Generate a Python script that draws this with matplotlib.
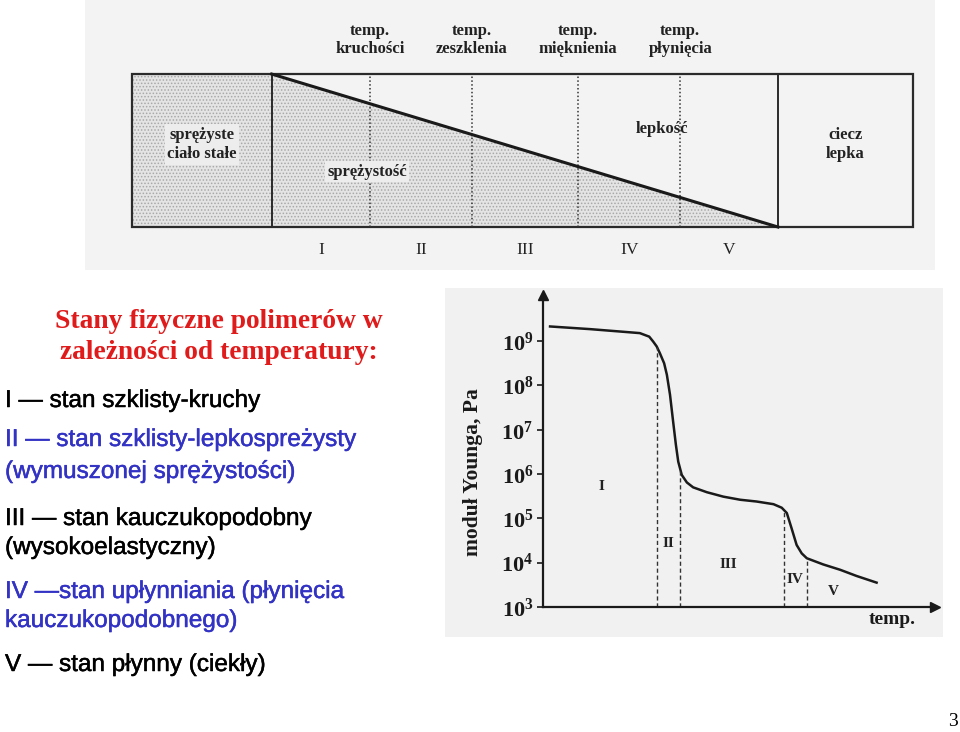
import numpy as np
import matplotlib.pyplot as plt
import matplotlib.patheffects as pe
from matplotlib.patches import Rectangle
from matplotlib.ticker import NullLocator

plt.rcParams['mathtext.fontset'] = 'custom'
plt.rcParams['mathtext.rm'] = 'Liberation Serif'
plt.rcParams['mathtext.bf'] = 'Liberation Serif:bold'
plt.rcParams['hatch.linewidth'] = 0.7

W, H = 960, 732
SERIF = 'Liberation Serif'
SANS = 'Liberation Sans'

# --- top schematic (temperature scale of the box: 0..100) ---
solid_edge = 17.9     # sprężyste ciało stałe | polimer
liquid_edge = 82.7    # polimer | ciecz lepka
transition_t = [30.5, 43.5, 57.1, 70.2]
transition_names = ['temp.\nkruchości', 'temp.\nzeszklenia',
                    'temp.\nmięknienia', 'temp.\npłynięcia']
elastic_t = [17.9, 82.7]
elastic_share = [1.0, 0.0]
state_names = ['I', 'II', 'III', 'IV', 'V']

# --- bottom chart: Young modulus vs temperature (log10 Pa) ---
temp = [1.8, 12.0, 20.5, 24.7, 27.1, 28.1, 29.0, 29.8, 30.9, 31.6, 32.4,
        33.2, 33.9, 34.5, 35.4, 36.7, 38.3, 41.8, 46.0, 50.3, 54.5, 58.8,
        60.9, 62.2, 63.4, 64.7, 66.0, 67.3, 71.5, 75.8, 80.0, 85.1]
log_E = [9.33, 9.27, 9.21, 9.18, 9.10, 8.99, 8.88, 8.73, 8.50, 8.24, 7.79,
         7.18, 6.66, 6.28, 5.98, 5.81, 5.70, 5.59, 5.49, 5.42, 5.38, 5.32,
         5.24, 5.12, 4.78, 4.40, 4.21, 4.10, 3.96, 3.84, 3.70, 3.55]
state_bounds = [29.1, 35.0, 61.5, 67.3]
label_t = [14.8, 32.1, 47.2, 64.3, 74.0]
label_logE = [5.71, 4.44, 3.97, 3.61, 3.34]
decades = [3, 4, 5, 6, 7, 8, 9]

# --- slide text ---
title_lines = ['Stany fizyczne polimerów w', 'zależności od temperatury:']
list_lines = [
    ('I — stan szklisty-kruchy', 'k', 401),
    ('II — stan szklisty-lepkospreżysty', 'b', 440),
    ('(wymuszonej sprężystości)', 'b', 472),
    ('III — stan kauczukopodobny', 'k', 519),
    ('(wysokoelastyczny)', 'k', 548),
    ('IV —stan upłynniania (płynięcia', 'b', 592),
    ('kauczukopodobnego)', 'b', 621),
    ('V — stan płynny (ciekły)', 'k', 665),
]
COLORS = {'k': '#000000', 'b': '#3232c4'}
SCAN_BG = '#f3f3f3'
INK = '#222222'


def rect(x0, y0, x1, y1):
    return [x0 / W, 1 - y1 / H, (x1 - x0) / W, (y1 - y0) / H]


fig = plt.figure(figsize=(W / 100, H / 100), dpi=100)

# ---------------- top schematic ----------------
ax1 = fig.add_axes(rect(85, 0, 935, 270))
ax1.set_facecolor(SCAN_BG)
for s in ax1.spines.values():
    s.set_visible(False)
ax1.set_xticks([])
ax1.set_yticks([])
ax1.set_xlim(-6.0, 102.8)
ax1.set_ylim(-0.281, 1.484)

ax1.fill_between([0, solid_edge], 0, 1, facecolor='#e4e4e4',
                 edgecolor='#a8a8a8', hatch='.....', lw=0)
ax1.fill_between(elastic_t, 0, elastic_share, facecolor='#e4e4e4',
                 edgecolor='#a8a8a8', hatch='.....', lw=0)
ax1.add_patch(Rectangle((0, 0), 100, 1, fill=False, ec='#2a2a2a', lw=1.6))
ax1.vlines([solid_edge, liquid_edge], 0, 1, color='#2a2a2a', lw=1.4)
ax1.vlines(transition_t, 0, 1, color='#333333', lw=1.1,
           linestyles=(0, (1, 1.5)))
ax1.plot(elastic_t, elastic_share, color='#1a1a1a', lw=2.2)

for t, name in zip(transition_t, transition_names):
    ax1.text(t, 1.225, name, ha='center', va='center', family=SERIF,
             fontsize=12, weight='bold', color=INK, linespacing=1.15)

mids = [solid_edge] + transition_t + [liquid_edge]
for a, b, name in zip(mids[:-1], mids[1:], state_names):
    ax1.text((a + b) / 2, -0.15, name, ha='center', va='center',
             family=SERIF, fontsize=12.5, color=INK)

clear = dict(boxstyle='square,pad=0.15', fc='#ededed', ec='none')
ax1.text(solid_edge / 2, 0.54, 'sprężyste\nciało stałe', ha='center',
         va='center', family=SERIF, fontsize=12, weight='bold',
         color=INK, linespacing=1.3, bbox=clear)
ax1.text(30.1, 0.36, 'sprężystość', ha='center', va='center', family=SERIF,
         fontsize=12, weight='bold', color=INK, bbox=clear)
ax1.text(67.9, 0.64, 'lepkość', ha='center', va='center', family=SERIF,
         fontsize=12, weight='bold', color=INK)
ax1.text((liquid_edge + 100) / 2, 0.54, 'ciecz\nlepka', ha='center',
         va='center', family=SERIF, fontsize=12, weight='bold',
         color=INK, linespacing=1.3)

# ---------------- bottom chart ----------------
axb = fig.add_axes(rect(445, 288, 943, 637))
axb.set_facecolor('#f1f1f1')
for s in axb.spines.values():
    s.set_visible(False)
axb.set_xticks([])
axb.set_yticks([])

ax2 = fig.add_axes(rect(543, 295, 935, 607))
ax2.patch.set_alpha(0)
ax2.set_yscale('log')
ax2.set_xlim(0, 100)
ax2.set_ylim(1e3, 10 ** 10.04)
ax2.spines['top'].set_visible(False)
ax2.spines['right'].set_visible(False)
for s in ('left', 'bottom'):
    ax2.spines[s].set_linewidth(1.6)
    ax2.spines[s].set_color('#1a1a1a')
ax2.plot(1, 0, '>', color='#1a1a1a', ms=7, transform=ax2.transAxes,
         clip_on=False)
ax2.plot(0, 1, '^', color='#1a1a1a', ms=7, transform=ax2.transAxes,
         clip_on=False)

E = 10 ** np.array(log_E)
ax2.plot(temp, E, color='#1a1a1a', lw=1.8)
bound_E = 10 ** np.interp(state_bounds, temp, log_E)
ax2.vlines(state_bounds, 1e3, bound_E, color='#333333', lw=1.0,
           linestyles=(0, (3, 2)))
for t, le, name in zip(label_t, label_logE, state_names):
    ax2.text(t, 10 ** le, name, ha='center', va='center', family=SERIF,
             fontsize=11, weight='bold', color=INK)

ax2.set_xticks([])
ax2.set_yticks([10.0 ** d for d in decades])
ax2.set_yticklabels([rf'$\mathbf{{10^{{{d}}}}}$' for d in decades])
ax2.yaxis.set_minor_locator(NullLocator())
ax2.tick_params(axis='y', direction='out', length=4, width=1.2, pad=3,
                labelsize=16, colors='#1a1a1a')
ax2.set_ylabel('moduł Younga, Pa', family=SERIF, fontsize=15.5,
               weight='bold', color='#1a1a1a')
ax2.yaxis.set_label_coords(-0.153, 0.433)
ax2.set_xlabel('temp.', family=SERIF, fontsize=14, weight='bold',
               color='#1a1a1a')
ax2.xaxis.set_label_coords((892 - 543) / 392, -0.013)

# ---------------- slide text ----------------
for i, line in enumerate(title_lines):
    fig.text(219 / W, 1 - (322 + 31 * i) / H, line, ha='center',
             va='center', family=SERIF, fontsize=19.8, weight='bold',
             color='#e01b1b')
for line, c, y in list_lines:
    fig.text(5 / W, 1 - y / H, line, ha='left', va='center', family=SANS,
             fontsize=17.5, color=COLORS[c],
             path_effects=[pe.withStroke(linewidth=0.35,
                                         foreground=COLORS[c])])
fig.text(953 / W, 1 - 722 / H, '3', ha='center', va='center',
         family=SERIF, fontsize=14)

fig.savefig('out.png', dpi=100)
